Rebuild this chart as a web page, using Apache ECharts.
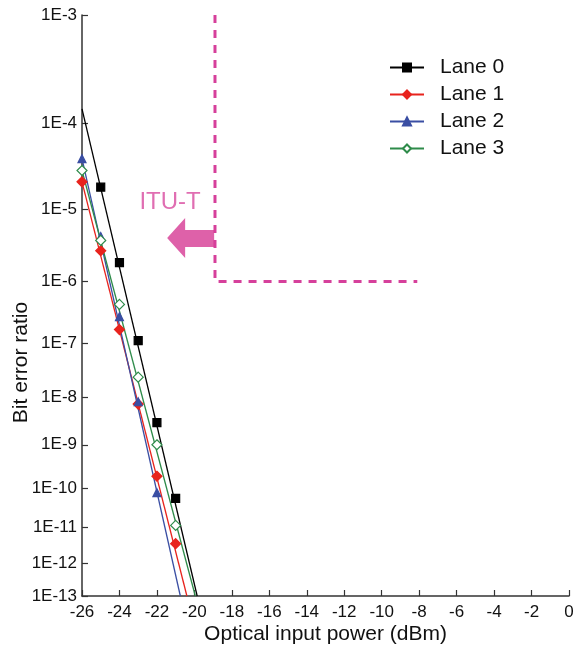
<!DOCTYPE html>
<html>
<head>
<meta charset="utf-8">
<script src="https://cdn.jsdelivr.net/npm/echarts@6/dist/echarts.min.js"></script>
<style>
html,body{margin:0;padding:0;background:#fff;}
#chart{width:587px;height:655px;}
</style>
</head>
<body>
<div id="chart"></div>
<script>
// ---- data ----
const laneNames = ['Lane 0', 'Lane 1', 'Lane 2', 'Lane 3'];

const lane0X = [-25, -24, -23, -22, -21];
const lane0Y = [1.9e-5, 1.9e-6, 1.1e-7, 3.0e-9, 5.5e-11];
const lane0FitX = [-26, -19.85];
const lane0FitY = [1.4e-4, 1e-13];

const lane1X = [-26, -25, -24, -23, -22, -21];
const lane1Y = [2.2e-5, 2.8e-6, 1.7e-7, 7.2e-9, 1.9e-10, 3.5e-12];
const lane1FitX = [-26, -20.4];
const lane1FitY = [2.2e-5, 1e-13];

const lane2X = [-26, -25, -24, -23, -22];
const lane2Y = [4.1e-5, 4.4e-6, 2.8e-7, 8.0e-9, 7.6e-11];
const lane2FitX = [-26, -20.75];
const lane2FitY = [4.1e-5, 1e-13];

const lane3X = [-26, -25, -24, -23, -22, -21];
const lane3Y = [3.0e-5, 3.9e-6, 4.4e-7, 2.4e-8, 1.0e-9, 1.1e-11];
const lane3FitX = [-26, -19.95];
const lane3FitY = [3.0e-5, 1e-13];

const ituX = [-18.9, -18.9, -8.1];
const ituY = [1e-3, 1e-6, 1e-6];
const ituArrowX = [-20.2];
const ituArrowY = [4.2e-6];
const ituTextX = [-21.3];
const ituTextY = [1.25e-5];
const ituLabel = 'ITU-T';

const yTickExps = [3, 4, 5, 6, 7, 8, 9, 10, 11, 12, 13];
const xMin = -26, xMax = 0, xStep = 2;

// ---- BER axis transform ----
function T(ber) { return -Math.log10(0.5 - Math.log10(ber)); }
function invExp(v) { return Math.round(Math.pow(10, -v) - 0.5); }
function pts(xs, ys) { return xs.map((x, i) => [x, T(ys[i])]); }

const FONT = '"Liberation Sans", Arial, sans-serif';
const MAG = '#d6409b';

const styles = [
  {color: '#000000', symbol: 'rect', size: 8, fill: '#000000'},
  {color: '#e8231d', symbol: 'diamond', size: 10, fill: '#e8231d'},
  {color: '#3a4ea3', symbol: 'triangle', size: 8, fill: '#3a4ea3'},
  {color: '#2e8b4a', symbol: 'diamond', size: 10, fill: '#ffffff'}
];
const laneData = [
  [lane0X, lane0Y, lane0FitX, lane0FitY],
  [lane1X, lane1Y, lane1FitX, lane1FitY],
  [lane2X, lane2Y, lane2FitX, lane2FitY],
  [lane3X, lane3Y, lane3FitX, lane3FitY]
];

const series = [];
laneData.forEach((d, i) => {
  const s = styles[i];
  series.push({
    name: laneNames[i], type: 'line', data: pts(d[2], d[3]),
    symbol: s.symbol, showSymbol: false, symbolSize: s.size,
    lineStyle: {color: s.color, width: 1.3},
    itemStyle: {color: s.fill, borderColor: s.color, borderWidth: 1.2},
    silent: true, z: 2
  });
});
laneData.forEach((d, i) => {
  const s = styles[i];
  series.push({
    name: laneNames[i], type: 'scatter', data: pts(d[0], d[1]),
    symbol: s.symbol, symbolSize: s.size,
    itemStyle: {color: s.fill, borderColor: s.color, borderWidth: 1.2, opacity: 1},
    z: 3
  });
});
series.push({
  name: 'ITU', type: 'line', data: pts(ituX, ituY), symbol: 'none',
  lineStyle: {color: MAG, width: 3, type: [8, 7]}, silent: true, z: 1
});
series.push({
  name: 'ITUarrow', type: 'scatter', data: pts(ituArrowX, ituArrowY),
  symbol: 'path://M0,20L18,0L18,12L47,12L47,29L18,29L18,40Z',
  symbolSize: [47, 40], itemStyle: {color: '#d63a94'}, silent: true, z: 1
});
series.push({
  name: 'ITUtext', type: 'scatter', data: pts(ituTextX, ituTextY),
  symbolSize: 0, silent: true,
  label: {show: true, position: 'inside', formatter: ituLabel,
    color: '#d84a9f', fontSize: 24, fontFamily: FONT}
});

const yTickVals = yTickExps.map(n => T(Math.pow(10, -n)));

const chart = echarts.init(document.getElementById('chart'), null, {renderer: 'canvas'});
chart.setOption({
  animation: false,
  backgroundColor: '#ffffff',
  grid: {left: 82, right: 18, top: 15, bottom: 59, containLabel: false, outerBoundsMode: 'none'},
  legend: {
    data: laneNames, orient: 'vertical', left: 384, top: 52,
    itemWidth: 34, itemHeight: 10, itemGap: 6,
    textStyle: {fontSize: 21, color: '#111', fontFamily: FONT, padding: [0, 0, 0, 11]}
  },
  xAxis: {
    type: 'value', min: xMin, max: xMax, interval: xStep,
    name: 'Optical input power (dBm)', nameLocation: 'middle', nameGap: 28,
    nameMoveOverlap: false,
    nameTextStyle: {fontSize: 21, color: '#111', fontFamily: FONT},
    axisLine: {onZero: false, lineStyle: {color: '#333', width: 1.5}},
    axisTick: {inside: true, length: 6, lineStyle: {color: '#333', width: 1.2}},
    axisLabel: {fontSize: 17, color: '#111', fontFamily: FONT, margin: 8},
    splitLine: {show: false}
  },
  yAxis: {
    type: 'value', min: T(1e-13), max: T(1e-3),
    name: 'Bit error ratio', nameLocation: 'middle', nameGap: 50,
    nameMoveOverlap: false,
    nameTextStyle: {fontSize: 21, color: '#111', fontFamily: FONT, padding: [0, 114, 0, 0]},
    axisLine: {onZero: false, lineStyle: {color: '#333', width: 1.5}},
    axisTick: {inside: true, length: 6, customValues: yTickVals, lineStyle: {color: '#333', width: 1.2}},
    axisLabel: {fontSize: 17, color: '#111', fontFamily: FONT, margin: 5,
      customValues: yTickVals, formatter: v => '1E-' + invExp(v)},
    splitLine: {show: false}
  },
  series: series
});
</script>
</body>
</html>
